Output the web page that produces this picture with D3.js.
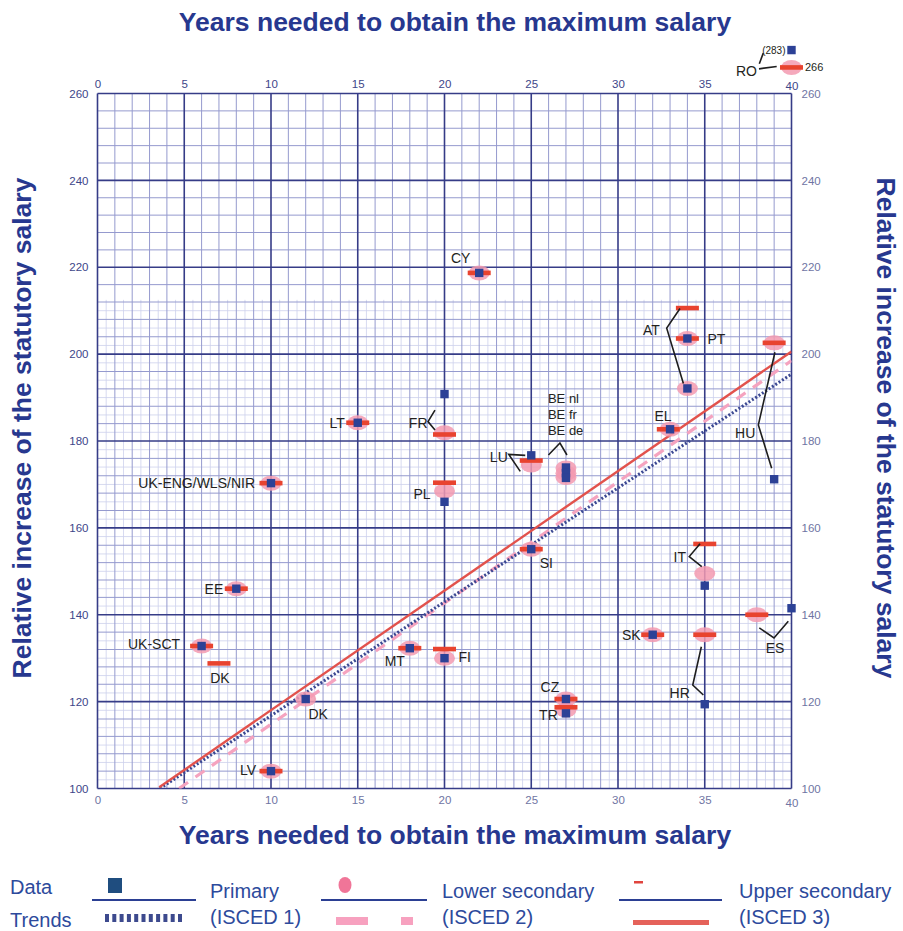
<!DOCTYPE html>
<html>
<head>
<meta charset="utf-8">
<script src="https://cdn.jsdelivr.net/npm/d3@7"></script>
<style>
  body { margin: 0; background: #fff; }
  svg { display: block; }
  text { font-family: "Liberation Sans", Arial, sans-serif; }
</style>
</head>
<body>
<script>
// Axis ticks: years to reach top of scale (x), relative salary, minimum = 100 (y)
const xTicks = [0, 5, 10, 15, 20, 25, 30, 35, 40];
const yTicks = [100, 120, 140, 160, 180, 200, 220, 240, 260];

// [country, years, relative increase]
const primary = [
  ["CY", 22, 218.7], ["LT", 15, 184.2], ["FR", 20, 190.8], ["PL", 20, 166.0],
  ["LU", 25, 176.7], ["BE nl", 27, 173.9], ["BE fr", 27, 172.6], ["BE de", 27, 171.5],
  ["SI", 25, 155.1], ["EL", 33, 182.7], ["AT", 34, 192.1], ["PT", 34, 203.6],
  ["HU", 39, 171.2], ["IT", 35, 146.7], ["SK", 32, 135.4], ["HR", 35, 119.4],
  ["ES", 40, 141.5], ["CZ", 27, 120.6], ["TR", 27, 117.3], ["MT", 18, 132.3],
  ["FI", 20, 130.0], ["UK-ENG/WLS/NIR", 10, 170.3], ["EE", 8, 146.0],
  ["UK-SCT", 6, 132.8], ["DK", 12, 120.6], ["LV", 10, 104.0], ["RO", 40, 283]
];
const lowerSecondary = [
  ["CY", 22, 218.7], ["LT", 15, 184.2], ["FR", 20, 181.9], ["PL", 20, 168.5],
  ["LU", 25, 174.5], ["BE nl", 27, 173.8], ["BE fr", 27, 172.6], ["BE de", 27, 171.6],
  ["SI", 25, 155.1], ["EL", 33, 182.7], ["AT", 34, 192.1], ["PT", 34, 203.6],
  ["HU", 39, 202.6], ["IT", 35, 149.5], ["SK", 32, 135.4], ["HR", 35, 135.4],
  ["ES", 38, 140.0], ["CZ", 27, 120.6], ["TR", 27, 118.1], ["MT", 18, 132.3],
  ["FI", 20, 130.0], ["UK-ENG/WLS/NIR", 10, 170.3], ["EE", 8, 146.0],
  ["UK-SCT", 6, 132.8], ["DK", 12, 120.6], ["LV", 10, 104.0], ["RO", 40, 266]
];
const upperSecondary = [
  ["CY", 22, 218.7], ["LT", 15, 184.2], ["FR", 20, 181.5], ["PL", 20, 170.4],
  ["LU", 25, 175.5], ["SI", 25, 155.1], ["EL", 32.9, 182.7], ["AT", 34, 210.6],
  ["PT", 34, 203.6], ["HU", 39, 202.6], ["IT", 35, 156.3], ["SK", 32, 135.4],
  ["HR", 35, 135.4], ["ES", 38, 140.0], ["CZ", 27, 120.6], ["TR", 27, 118.7],
  ["MT", 18, 132.3], ["FI", 20, 132.1], ["UK-ENG/WLS/NIR", 10, 170.3], ["EE", 8, 146.0],
  ["UK-SCT", 6, 132.8], ["DK", 7, 128.8], ["LV", 10, 104.0], ["RO", 40, 266]
];

// Linear trends, start and end points [years, relative increase]
const trendPrimary = [[3.6, 100], [40, 195.4]];
const trendLower = [[4.7, 100], [40, 198.5]];
const trendUpper = [[3.56, 100.3], [40, 200.6]];

// Values above this are drawn at the cap and labelled with their value
const yCap = 270;

const W = 903, H = 931;
const x = d3.scaleLinear().domain([0, 40]).range([97.5, 791.5]);
const y = d3.scaleLinear().domain([100, 260]).range([788.5, 93.5]);
const yShown = v => y(Math.min(v, yCap));

const svg = d3.select("body").append("svg").attr("width", W).attr("height", H);

const C = {
  navy: "#27388f", major: "#363c87", minor: "#959ace", fine: "#cdd0ec",
  blue: "#2c4196", pink: "#f39ab0", red: "#e8432f", redLine: "#e2524c",
  pinkLine: "#f5a3bf", dotLine: "#3b4892", tickDark: "#3d4689", tickLight: "#6f75a3",
  label: "#231f20"
};

// ---- grid ----
const grid = svg.append("g");
const fineTop = 212.5;
// fine layer (lower part of the chart)
grid.selectAll(".fv").data(d3.range(0.5, 40, 1)).join("line")
  .attr("x1", d => x(d)).attr("x2", d => x(d)).attr("y1", y(100)).attr("y2", y(fineTop))
  .attr("stroke", C.fine).attr("stroke-width", 0.8);
grid.selectAll(".fh").data(d3.range(102, fineTop, 4)).join("line")
  .attr("x1", x(0)).attr("x2", x(40)).attr("y1", d => y(d)).attr("y2", d => y(d))
  .attr("stroke", C.fine).attr("stroke-width", 0.8);
// minor
grid.selectAll(".mv").data(d3.range(0, 41, 1).filter(d => d % 5)).join("line")
  .attr("x1", d => x(d)).attr("x2", d => x(d)).attr("y1", y(100)).attr("y2", y(260))
  .attr("stroke", C.minor).attr("stroke-width", 1);
grid.selectAll(".mh").data(d3.range(100, 261, 4).filter(d => d % 20)).join("line")
  .attr("x1", x(0)).attr("x2", x(40)).attr("y1", d => y(d)).attr("y2", d => y(d))
  .attr("stroke", C.minor).attr("stroke-width", 1);
// major
grid.selectAll(".Mv").data(xTicks).join("line")
  .attr("x1", d => x(d)).attr("x2", d => x(d)).attr("y1", y(100)).attr("y2", y(260))
  .attr("stroke", C.major).attr("stroke-width", 1.6);
grid.selectAll(".Mh").data(yTicks).join("line")
  .attr("x1", x(0)).attr("x2", x(40)).attr("y1", d => y(d)).attr("y2", d => y(d))
  .attr("stroke", C.major).attr("stroke-width", 1.6);

// ---- tick labels ----
function styleAxis(g, color) {
  g.select(".domain").remove();
  g.selectAll("line").remove();
  g.selectAll("text").attr("fill", color).attr("font-size", 11.5)
    .attr("font-family", "'Liberation Sans', Arial, sans-serif");
}
svg.append("g").attr("transform", `translate(0,${y(260)})`)
  .call(d3.axisTop(x).tickValues(xTicks).tickSize(0).tickPadding(6))
  .call(g => styleAxis(g, C.tickDark))
  .call(g => g.selectAll("text").filter(d => d === 40).attr("dy", "0.25em"));
svg.append("g").attr("transform", `translate(0,${y(100)})`)
  .call(d3.axisBottom(x).tickValues(xTicks).tickSize(0).tickPadding(7))
  .call(g => styleAxis(g, C.tickLight))
  .call(g => g.selectAll("text").filter(d => d === 40).attr("dy", "1.0em"));
svg.append("g").attr("transform", `translate(${x(0)},0)`)
  .call(d3.axisLeft(y).tickValues(yTicks).tickSize(0).tickPadding(9))
  .call(g => styleAxis(g, C.tickDark));
svg.append("g").attr("transform", `translate(${x(40)},0)`)
  .call(d3.axisRight(y).tickValues(yTicks).tickSize(0).tickPadding(10))
  .call(g => styleAxis(g, C.tickLight));

// ---- axis titles ----
const titleFont = { size: 26.5, weight: "bold" };
const xTitle = "Years needed to obtain the maximum salary";
const yTitle = "Relative increase of the statutory salary";
[31, 844].forEach(b => svg.append("text").attr("x", 455).attr("y", b)
  .attr("text-anchor", "middle").attr("font-size", titleFont.size)
  .attr("font-weight", titleFont.weight).attr("fill", C.navy).text(xTitle));
svg.append("text").attr("transform", `translate(31,428) rotate(-90)`)
  .attr("text-anchor", "middle").attr("font-size", titleFont.size)
  .attr("font-weight", titleFont.weight).attr("fill", C.navy).text(yTitle);
svg.append("text").attr("transform", `translate(877,428) rotate(90)`)
  .attr("text-anchor", "middle").attr("font-size", titleFont.size)
  .attr("font-weight", titleFont.weight).attr("fill", C.navy).text(yTitle);

// ---- trend lines (clipped to the plot area) ----
svg.append("clipPath").attr("id", "plot")
  .append("rect").attr("x", x(0)).attr("y", y(260)).attr("width", x(40) - x(0)).attr("height", y(100) - y(260));
const line = d3.line().x(d => x(d[0])).y(d => y(d[1]));
const trends = svg.append("g").attr("clip-path", "url(#plot)");
trends.append("path").attr("d", line(trendLower)).attr("fill", "none")
  .attr("stroke", C.pinkLine).attr("stroke-width", 3.2).attr("stroke-dasharray", "11 9");
trends.append("path").attr("d", line(trendPrimary)).attr("fill", "none")
  .attr("stroke", C.dotLine).attr("stroke-width", 3).attr("stroke-dasharray", "2 2");
trends.append("path").attr("d", line(trendUpper)).attr("fill", "none")
  .attr("stroke", C.redLine).attr("stroke-width", 2.4);

// ---- markers ----
const marks = svg.append("g");
marks.selectAll(".lo").data(lowerSecondary).join("ellipse")
  .attr("cx", d => x(d[1])).attr("cy", d => yShown(d[2]))
  .attr("rx", 10.5).attr("ry", 7.5).attr("fill", C.pink).attr("opacity", 0.85);
marks.selectAll(".up").data(upperSecondary).join("rect")
  .attr("x", d => x(d[1]) - 11.5).attr("y", d => yShown(d[2]) - 2.3)
  .attr("width", 23).attr("height", 4.6).attr("fill", C.red);
marks.selectAll(".pr").data(primary).join("rect")
  .attr("x", d => x(d[1]) - 4.2).attr("y", d => yShown(d[2]) - 4.2)
  .attr("width", 8.4).attr("height", 8.4).attr("fill", C.blue);

// ---- country labels; offsets in px from a point of the named series ----
const seriesByName = { p: primary, l: lowerSecondary, u: upperSecondary };
function anchorOf(series, code) {
  const d = seriesByName[series].find(r => r[0] === code);
  return [x(d[1]), yShown(d[2])];
}
const labels = [
  { t: "CY", s: "p", c: "CY", dx: -18.5, dy: -15, a: "middle" },
  { t: "LT", s: "p", c: "LT", dx: -13, dy: 0, a: "end" },
  { t: "FR", s: "p", c: "FR", dx: -17, dy: 29, a: "end", path: [[-9.5, 16], [-16.5, 27.5], [-9.5, 36]] },
  { t: "PL", s: "p", c: "PL", dx: -14, dy: -8, a: "end" },
  { t: "LU", s: "p", c: "LU", dx: -23.5, dy: 2, a: "end", path: [[-6, 0], [-22.5, -1], [-11, 16]] },
  { t: "BE nl", s: "p", c: "BE nl", dx: -18, dy: -69, a: "start", f: 13 },
  { t: "BE fr", s: "p", c: "BE nl", dx: -18, dy: -53, a: "start", f: 13 },
  { t: "BE de", s: "p", c: "BE nl", dx: -18, dy: -37, a: "start", f: 13, path: [[-17.5, -12.5], [-6, -24.5], [1, -12.5]] },
  { t: "SI", s: "p", c: "SI", dx: 15, dy: 14, a: "middle" },
  { t: "EL", s: "p", c: "EL", dx: -7, dy: -13, a: "middle" },
  { t: "AT", s: "p", c: "AT", dx: -36, dy: -58, a: "middle", path: [[-4, -5], [-20.7, -60.3], [-7.4, -80]] },
  { t: "PT", s: "p", c: "PT", dx: 20, dy: 1, a: "start" },
  { t: "HU", s: "p", c: "HU", dx: -29, dy: -46, a: "middle", path: [[0.8, -127], [-15.8, -54.3], [-2.5, -11]] },
  { t: "IT", s: "p", c: "IT", dx: -25, dy: -29, a: "middle", path: [[-4.7, -41.8], [-15.5, -29.1], [-3, -19.1]] },
  { t: "SK", s: "p", c: "SK", dx: -12, dy: 0, a: "end" },
  { t: "HR", s: "p", c: "HR", dx: -15, dy: -11, a: "end", path: [[-3.4, -57.5], [-12, -19.2], [-1.4, -9.2]] },
  { t: "ES", s: "p", c: "ES", dx: -16.5, dy: 40, a: "middle", path: [[-32.2, 19.7], [-17.5, 29.7], [-3.2, 13.1]] },
  { t: "CZ", s: "p", c: "CZ", dx: -16, dy: -12, a: "middle" },
  { t: "TR", s: "p", c: "TR", dx: -17.5, dy: 1.5, a: "middle" },
  { t: "MT", s: "p", c: "MT", dx: -15, dy: 13, a: "middle" },
  { t: "FI", s: "p", c: "FI", dx: 14, dy: -1.5, a: "start" },
  { t: "UK-ENG/WLS/NIR", s: "p", c: "UK-ENG/WLS/NIR", dx: -16, dy: 0, a: "end" },
  { t: "EE", s: "p", c: "EE", dx: -13, dy: 0, a: "end" },
  { t: "UK-SCT", s: "p", c: "UK-SCT", dx: -21.5, dy: -2, a: "end" },
  { t: "DK", s: "u", c: "DK", dx: 1, dy: 15, a: "middle" },
  { t: "DK", s: "p", c: "DK", dx: 12.5, dy: 15, a: "middle" },
  { t: "LV", s: "p", c: "LV", dx: -15, dy: -1, a: "end" },
  { t: "RO", s: "u", c: "RO", dx: -34.5, dy: 4, a: "end", path: [[-14.8, -1], [-32.5, 1.4]] },
  { t: "", s: "u", c: "RO", dx: 0, dy: 0, a: "end", path: [[-32.2, -3.6], [-28.2, -14.3]] }
];
const ann = svg.append("g");
labels.forEach(l => {
  const [ax, ay] = anchorOf(l.s, l.c);
  if (l.path) {
    ann.append("path")
      .attr("d", d3.line()(l.path.map(p => [ax + p[0], ay + p[1]])))
      .attr("fill", "none").attr("stroke", "#1e1e1e").attr("stroke-width", 1.6);
  }
  if (l.t) {
    ann.append("text").attr("x", ax + l.dx).attr("y", ay + l.dy)
      .attr("dy", "0.35em").attr("text-anchor", l.a)
      .attr("font-size", l.f || 14).attr("fill", C.label).text(l.t);
  }
});
// values of points placed outside the scale
const ro = primary.find(r => r[0] === "RO");
ann.append("text").attr("x", x(ro[1]) - 6).attr("y", yShown(ro[2])).attr("dy", "0.35em")
  .attr("text-anchor", "end").attr("font-size", 10).attr("fill", C.label).text(`(${ro[2]})`);
const roU = upperSecondary.find(r => r[0] === "RO");
ann.append("text").attr("x", x(roU[1]) + 13.5).attr("y", yShown(roU[2])).attr("dy", "0.35em")
  .attr("text-anchor", "start").attr("font-size", 11).attr("fill", C.label).text(roU[2]);

// ---- legend ----
const lg = svg.append("g");
const lgFont = 20, lgColor = "#2d4a9c";
lg.append("text").attr("x", 10).attr("y", 894).attr("font-size", lgFont).attr("fill", lgColor).text("Data");
lg.append("text").attr("x", 10).attr("y", 927).attr("font-size", lgFont).attr("fill", lgColor).text("Trends");
const groups = [
  { x0: 92, x1: 196, tx: 210, l1: "Primary", l2: "(ISCED 1)" },
  { x0: 321, x1: 427, tx: 442, l1: "Lower secondary", l2: "(ISCED 2)" },
  { x0: 619, x1: 722, tx: 739, l1: "Upper secondary", l2: "(ISCED 3)" }
];
groups.forEach(g => {
  lg.append("line").attr("x1", g.x0).attr("x2", g.x1).attr("y1", 900).attr("y2", 900)
    .attr("stroke", "#2b3f93").attr("stroke-width", 2);
  lg.append("text").attr("x", g.tx).attr("y", 898).attr("font-size", lgFont).attr("fill", lgColor).text(g.l1);
  lg.append("text").attr("x", g.tx).attr("y", 924).attr("font-size", lgFont).attr("fill", lgColor).text(g.l2);
});
lg.append("rect").attr("x", 108).attr("y", 878).attr("width", 14).attr("height", 15).attr("fill", "#1f4d7f");
lg.append("ellipse").attr("cx", 345).attr("cy", 885).attr("rx", 6.5).attr("ry", 8).attr("fill", "#f07598");
lg.append("rect").attr("x", 634).attr("y", 881).attr("width", 9).attr("height", 2.5).attr("fill", "#e0443e");
lg.append("line").attr("x1", 105).attr("x2", 182).attr("y1", 918).attr("y2", 918)
  .attr("stroke", "#3d4a8e").attr("stroke-width", 8).attr("stroke-dasharray", "4 3.3");
lg.append("rect").attr("x", 336).attr("y", 917).attr("width", 32).attr("height", 8).attr("fill", "#f7a1bf");
lg.append("rect").attr("x", 401).attr("y", 917).attr("width", 12).attr("height", 8).attr("fill", "#f7a1bf");
lg.append("rect").attr("x", 633).attr("y", 920).attr("width", 76).attr("height", 5).attr("fill", "#e5625a");
</script>
</body>
</html>
